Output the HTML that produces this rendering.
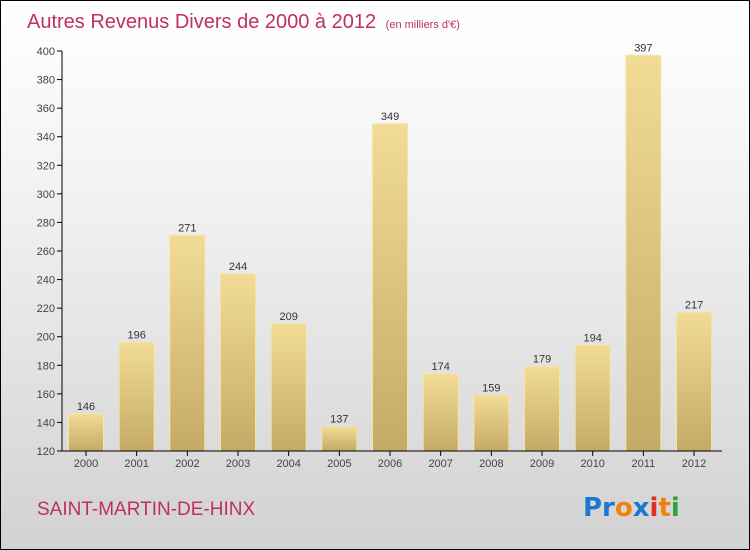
<!DOCTYPE html>
<html><head><meta charset="utf-8"><style>
body{margin:0}
#c{position:relative;width:748px;height:548px;border:1px solid #000;background:linear-gradient(#ffffff,#f4f4f4 30%,#d2d2d2);font-family:"Liberation Sans",sans-serif;overflow:hidden}
</style></head><body>
<div id="c">
<svg width="748" height="548">
<defs><linearGradient id="g" x1="0" y1="0" x2="0" y2="1"><stop offset="0" stop-color="#f2dc95"/><stop offset="1" stop-color="#c4aa66"/></linearGradient></defs>
<text x="26" y="27" font-size="20" fill="#c0305f">Autres Revenus Divers de 2000 à 2012 <tspan font-size="11" dx="4">(en milliers d'€)</tspan></text>
<g id="plot"></g>
<text x="36" y="514" font-size="19" fill="#c0305f">SAINT-MARTIN-DE-HINX</text>
<text x="582" y="515" font-size="26" font-family="DejaVu Sans" font-weight="bold"><tspan fill="#1a78d0">Pr</tspan><tspan fill="#f08010">o</tspan><tspan fill="#1a78d0">x</tspan><tspan fill="#e03020">i</tspan><tspan fill="#f08010">t</tspan><tspan fill="#30a040">i</tspan></text>
</svg></div>
<script>
const categories=["2000","2001","2002","2003","2004","2005","2006","2007","2008","2009","2010","2011","2012"];
const values=[146,196,271,244,209,137,349,174,159,179,194,397,217];
const yTicks=[120,140,160,180,200,220,240,260,280,300,320,340,360,380,400];
const ns="http://www.w3.org/2000/svg";
const g=document.getElementById('plot');
const y=v=>450-(v-120)*400/280;
const x=i=>85+i*50.67;
function el(t,a){const e=document.createElementNS(ns,t);for(const k in a)e.setAttribute(k,a[k]);g.appendChild(e);return e;}
yTicks.forEach(t=>{const e=el('line',{x1:56,x2:61,y1:y(t),y2:y(t),stroke:'#000'});


const tx=el('text',{x:54,y:y(t)+4,'font-size':11,'text-anchor':'end',fill:'#444'});tx.textContent=t;

});
values.forEach((v,i)=>{const r=el('rect',{x:x(i)-17.5,y:y(v),width:35,height:450-y(v),fill:'url(#g)',stroke:'#f5e4a8','stroke-width':1});


const t=el('text',{x:x(i),y:y(v)-4,'font-size':11,'text-anchor':'middle',fill:'#333'});t.textContent=v;


const tk=el('line',{x1:x(i),x2:x(i),y1:450,y2:455,stroke:'#000'});


const c=el('text',{x:x(i),y:466,'font-size':11,'text-anchor':'middle',fill:'#444'});c.textContent=categories[i];

});
const ya=el('line',{x1:61,x2:61,y1:50,y2:450,stroke:'#000'});


const xa=el('line',{x1:61,x2:721,y1:450,y2:450,stroke:'#000'});


</script>
</body></html>
